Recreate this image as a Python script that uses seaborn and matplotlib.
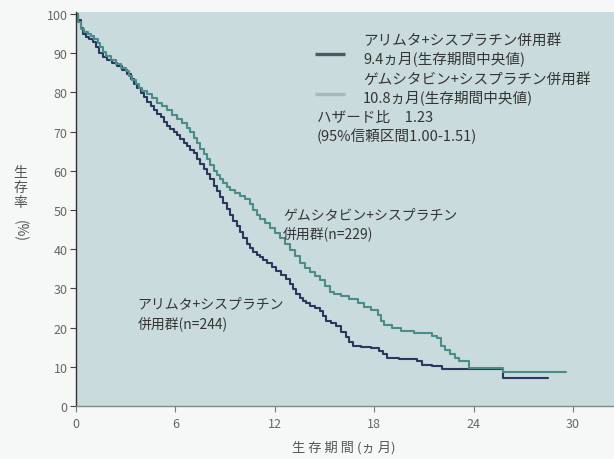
import numpy as np
import pandas as pd
import seaborn as sns
import matplotlib.pyplot as plt
from matplotlib.lines import Line2D

# Kaplan-Meier curves (months, survival %)
alimta_months = [0.0, 0.15, 0.3, 0.45, 0.6, 0.8, 1.0, 1.2, 1.4, 1.6, 1.9, 2.2, 2.5, 2.8,
                 3.1, 3.3, 3.5, 3.7, 3.9, 4.1, 4.3, 4.5, 4.7, 4.9, 5.1, 5.3, 5.5, 5.7,
                 5.9, 6.1, 6.3, 6.5, 6.7, 6.9, 7.1, 7.3, 7.5, 7.7, 7.9, 8.1, 8.3, 8.5,
                 8.7, 8.9, 9.1, 9.3, 9.5, 9.7, 9.9, 10.1, 10.3, 10.5, 10.7, 10.9, 11.1,
                 11.3, 11.5, 11.8, 12.1, 12.4, 12.7, 12.9, 13.1, 13.3, 13.5, 13.7, 13.9,
                 14.1, 14.4, 14.7, 14.9, 15.1, 15.4, 15.7, 16.0, 16.3, 16.5, 16.7, 17.2,
                 17.8, 18.3, 18.5, 18.8, 19.5, 20.6, 20.9, 21.5, 22.1, 25.8, 28.5]
alimta_surv = [100, 98.5, 96.5, 95, 94, 93.5, 92.8, 91.5, 90, 89, 88.2, 87.5, 86.7, 85.8,
               84.8, 83.5, 82.2, 81, 79.8, 78.8, 77.5, 76.5, 75.5, 74.6, 73.6, 72.5, 71.5, 70.6,
               69.8, 69, 68, 67, 66.2, 65.4, 64.5, 63, 61.8, 60.5, 59.2, 57.8, 56.2, 54.8,
               53.2, 51.8, 50.2, 48.8, 47.2, 45.8, 44.3, 42.8, 41.2, 40.2, 39.4, 38.6, 37.9,
               37.2, 36.4, 35.5, 34.5, 33.5, 32.3, 31, 29.8, 28.6, 27.5, 26.8, 26.2,
               25.6, 25.0, 24.3, 23, 21.8, 21.2, 20.4, 19, 17.6, 16.4, 15.2, 15.0,
               14.7, 14.0, 13.2, 12.2, 12.0, 11.5, 10.4, 10.2, 9.5, 7.1, 7.1]

gem_months = [0.0, 0.15, 0.3, 0.5, 0.7, 0.9, 1.1, 1.3, 1.45, 1.6, 1.8, 2.1, 2.4, 2.7,
              3.0, 3.2, 3.4, 3.6, 3.8, 4.0, 4.3, 4.6, 4.9, 5.2, 5.5, 5.8, 6.1, 6.4,
              6.7, 6.9, 7.1, 7.3, 7.5, 7.7, 7.9, 8.1, 8.3, 8.5, 8.7, 8.9, 9.1, 9.3,
              9.6, 9.9, 10.2, 10.5, 10.7, 10.9, 11.1, 11.4, 11.7, 12.0, 12.3, 12.6,
              12.9, 13.2, 13.5, 13.8, 14.1, 14.4, 14.7, 15.0, 15.3, 15.6, 16.0, 16.5,
              17.0, 17.4, 17.8, 18.2, 18.4, 18.6, 19.1, 19.6, 20.4, 21.5, 21.8, 22.0,
              22.3, 22.6, 22.9, 23.1, 23.7, 25.8, 29.6]
gem_surv = [100, 98, 96.2, 95.5, 95, 94.4, 93.6, 92.6, 91.5, 90.2, 89.2, 88.2, 87.2, 86.3,
            85.4, 84.2, 83.2, 82.2, 81.2, 80.4, 79.5, 78.6, 77.4, 76.4, 75.4, 74.3, 73.2, 72.3,
            71, 69.8, 68.4, 67, 65.6, 64.4, 63, 61.5, 60, 58.8, 57.8, 56.8, 55.8, 55,
            54.4, 53.6, 52.8, 51.6, 50, 48.8, 47.6, 46.6, 45.5, 44.2, 42.8, 41.4,
            39.8, 38.2, 36.6, 35.3, 34.2, 33.2, 32.2, 30.6, 29.2, 28.6, 28.0, 27.2,
            26.2, 25.2, 24.4, 23.2, 21.8, 20.6, 19.8, 19.1, 18.6, 17.9, 17.4, 15.3,
            14.2, 13.2, 12.2, 11.5, 9.7, 8.7, 8.7]

groups = ['アリムタ+シスプラチン併用群', 'ゲムシタビン+シスプラチン併用群']
legend_labels = ['アリムタ+シスプラチン併用群\n9.4ヵ月(生存期間中央値)',
                 'ゲムシタビン+シスプラチン併用群\n10.8ヵ月(生存期間中央値)']
x_ticks = [0, 6, 12, 18, 24, 30]
y_ticks = [0, 10, 20, 30, 40, 50, 60, 70, 80, 90, 100]

df = pd.concat([
    pd.DataFrame({'month': alimta_months, 'survival': alimta_surv, 'group': groups[0]}),
    pd.DataFrame({'month': gem_months, 'survival': gem_surv, 'group': groups[1]}),
])

sns.set_style('white')
plt.rcParams['font.family'] = ['Noto Sans CJK JP', 'DejaVu Sans']

W, H = 614, 460
text_color = '#353535'
tick_color = '#666666'
line_colors = {groups[0]: '#2a3760', groups[1]: '#4a8c88'}

fig = plt.figure(figsize=(W / 100, H / 100), dpi=100, facecolor='#f6f8f7')
ax = fig.add_axes([76 / W, 53 / H, 538 / W, 394 / H])
ax.set_facecolor('#c9dbdc')

sns.lineplot(data=df, x='month', y='survival', hue='group', palette=line_colors,
             drawstyle='steps-post', estimator=None, linewidth=1.5, legend=False, ax=ax)

ax.set_xlim(0, 32.47)
ax.set_ylim(0, 100.5)
ax.set_xticks(x_ticks)
ax.set_yticks(y_ticks)
ax.tick_params(axis='y', direction='out', length=4, width=0.8, color='#444444',
               labelsize=9, labelcolor=tick_color, pad=2, left=True)
ax.tick_params(axis='x', direction='out', length=4, width=0.8, color='#777777',
               labelsize=9, labelcolor=tick_color, pad=4, bottom=True)
ax.set_xlabel('')
ax.set_ylabel('')
for s in ['top', 'right']:
    ax.spines[s].set_visible(False)
ax.spines['left'].set_color('#333333')
ax.spines['left'].set_linewidth(1.0)
ax.spines['bottom'].set_color('#7d8a8a')
ax.spines['bottom'].set_linewidth(1.0)

# legend block (swatch + two-line label), placed in pixel positions
swatch_colors = ['#4d5a66', '#a8b9ba']
for label, sw_col, y_mid, y_sw in zip(legend_labels, swatch_colors, [50, 89], [55, 95]):
    fig.add_artist(Line2D([315 / W, 345 / W], [1 - y_sw / H] * 2, transform=fig.transFigure,
                          color=sw_col, lw=2.4, solid_capstyle='butt'))
    fig.text(363 / W, 1 - y_mid / H, label, fontsize=10.5, color=text_color,
             ha='left', va='center', linespacing=1.3)

fig.text(317 / W, 1 - 128 / H, 'ハザード比　1.23\n(95%信頼区間1.00-1.51)',
         fontsize=10.5, color=text_color, va='center', ha='left', linespacing=1.3)

# curve labels
ax.text(12.5, 46.4, 'ゲムシタビン+シスプラチン\n併用群(n=229)', fontsize=10,
        color=text_color, va='center', ha='left', linespacing=1.4)
ax.text(3.7, 23.5, 'アリムタ+シスプラチン\n併用群(n=244)', fontsize=10,
        color=text_color, va='center', ha='left', linespacing=1.55)

# axis titles
fig.text(344 / W, 1 - 448 / H, '生 存 期 間 (ヵ 月)', fontsize=9.5,
         color='#555555', ha='center', va='center')
fig.text(20 / W, 1 - 188 / H, '生\n存\n率', fontsize=10, color='#555555',
         ha='center', va='center', linespacing=1.1)
fig.text(20 / W, 1 - 231 / H, '(%)', fontsize=10, color='#555555',
         ha='center', va='center', rotation=270)

plt.savefig('out.png', dpi=100, facecolor=fig.get_facecolor())
